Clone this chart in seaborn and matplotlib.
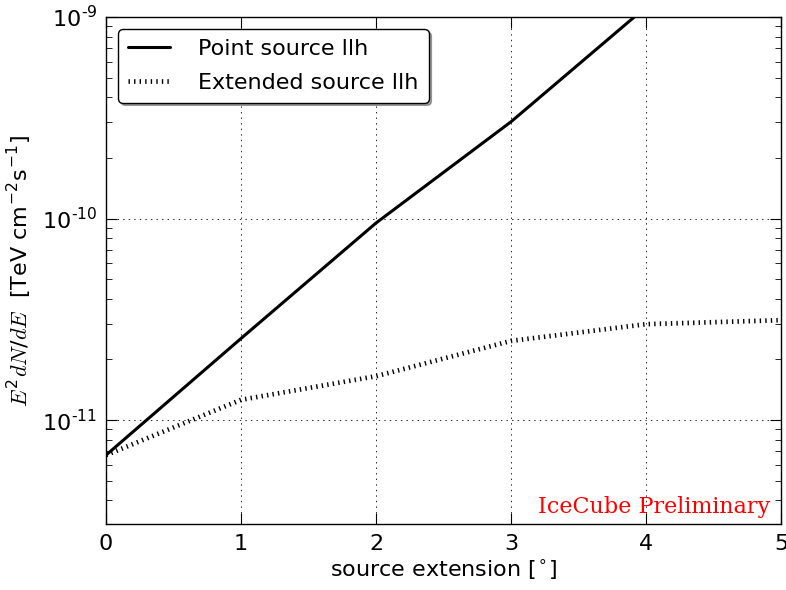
import numpy as np
import pandas as pd
import matplotlib
matplotlib.use("Agg")
import matplotlib.pyplot as plt
from matplotlib.ticker import FuncFormatter
import seaborn as sns

# Sensitivity flux vs. source extension for the two likelihood methods
extension = [0, 1, 2, 3, 4, 5]
point_llh = [6.7e-12, 2.54e-11, 9.5e-11, 3.02e-10, 1.12e-9, 4.0e-9]
extended_llh = [6.7e-12, 1.26e-11, 1.65e-11, 2.47e-11, 2.99e-11, 3.13e-11]
series_names = ["Point source llh", "Extended source llh"]
x_ticks = [0, 1, 2, 3, 4, 5]

FS = 16

sns.set_style("ticks")
plt.rcParams.update({
    "font.family": ["DejaVu Sans"],
    "font.size": FS,
    "text.color": "black",
    "axes.labelcolor": "black",
    "mathtext.fontset": "custom",
    "mathtext.it": "cmmi10",
    "mathtext.rm": "DejaVu Sans",
    "mathtext.sf": "DejaVu Sans",
    "lines.scale_dashes": False,
    "lines.dotted_pattern": [1, 3],
    "xtick.direction": "in",
    "ytick.direction": "in",
    "xtick.top": True,
    "ytick.right": True,
    "xtick.major.size": 8,
    "ytick.major.size": 8,
    "xtick.minor.size": 4,
    "ytick.minor.size": 4,
    "xtick.major.pad": 7,
    "ytick.major.pad": 6,
    "axes.linewidth": 1.0,
    "axes.edgecolor": "black",
    "xtick.color": "black",
    "ytick.color": "black",
})

df = pd.DataFrame({
    "extension": extension * 2,
    "flux": point_llh + extended_llh,
    "method": [series_names[0]] * len(extension) + [series_names[1]] * len(extension),
})

fig = plt.figure(figsize=(7.86, 5.9), dpi=100)
ax = fig.add_axes([0.1349, 0.1119, 0.8587, 0.8593])

sns.lineplot(data=df[df.method == series_names[0]], x="extension", y="flux",
             color="black", linewidth=2.2, linestyle="-", ax=ax,
             label=series_names[0], legend=False)
sns.lineplot(data=df[df.method == series_names[1]], x="extension", y="flux",
             color="black", linewidth=3.4, linestyle=":", ax=ax,
             label=series_names[1], legend=False)

ax.set_yscale("log")
ax.set_xlim(0, 5)
ax.set_ylim(3.05e-12, 1e-9)
ax.set_xticks(x_ticks)


def decade_label(val, pos):
    exp = int(round(np.log10(val)))
    sign = "\u2010" if exp < 0 else ""
    return "$10^{%s%d}$" % (sign, abs(exp))


ax.yaxis.set_major_formatter(FuncFormatter(decade_label))
ax.grid(True, which="major", linestyle=":", color="black", linewidth=0.6)

ax.set_xlabel("source extension [$^{\\circ}$]", fontsize=FS, labelpad=3)
ax.set_ylabel("$E^2dN/dE$  [TeV cm$^{-2}$s$^{-1}$]", fontsize=FS, labelpad=6)
ax.tick_params(labelsize=FS, colors="black")

leg = ax.legend(loc="upper left", fancybox=True, shadow=True, fontsize=FS,
                handlelength=1.9, borderpad=0.45, labelspacing=0.6,
                handletextpad=1.25, borderaxespad=0.55, framealpha=1)
leg.get_frame().set_edgecolor("black")
leg.get_frame().set_linewidth(1.0)

ax.text(0.984, 0.012, "IceCube Preliminary", transform=ax.transAxes,
        ha="right", va="bottom", color="red", fontsize=FS,
        family="DejaVu Serif")

fig.savefig("out.png", dpi=100)
